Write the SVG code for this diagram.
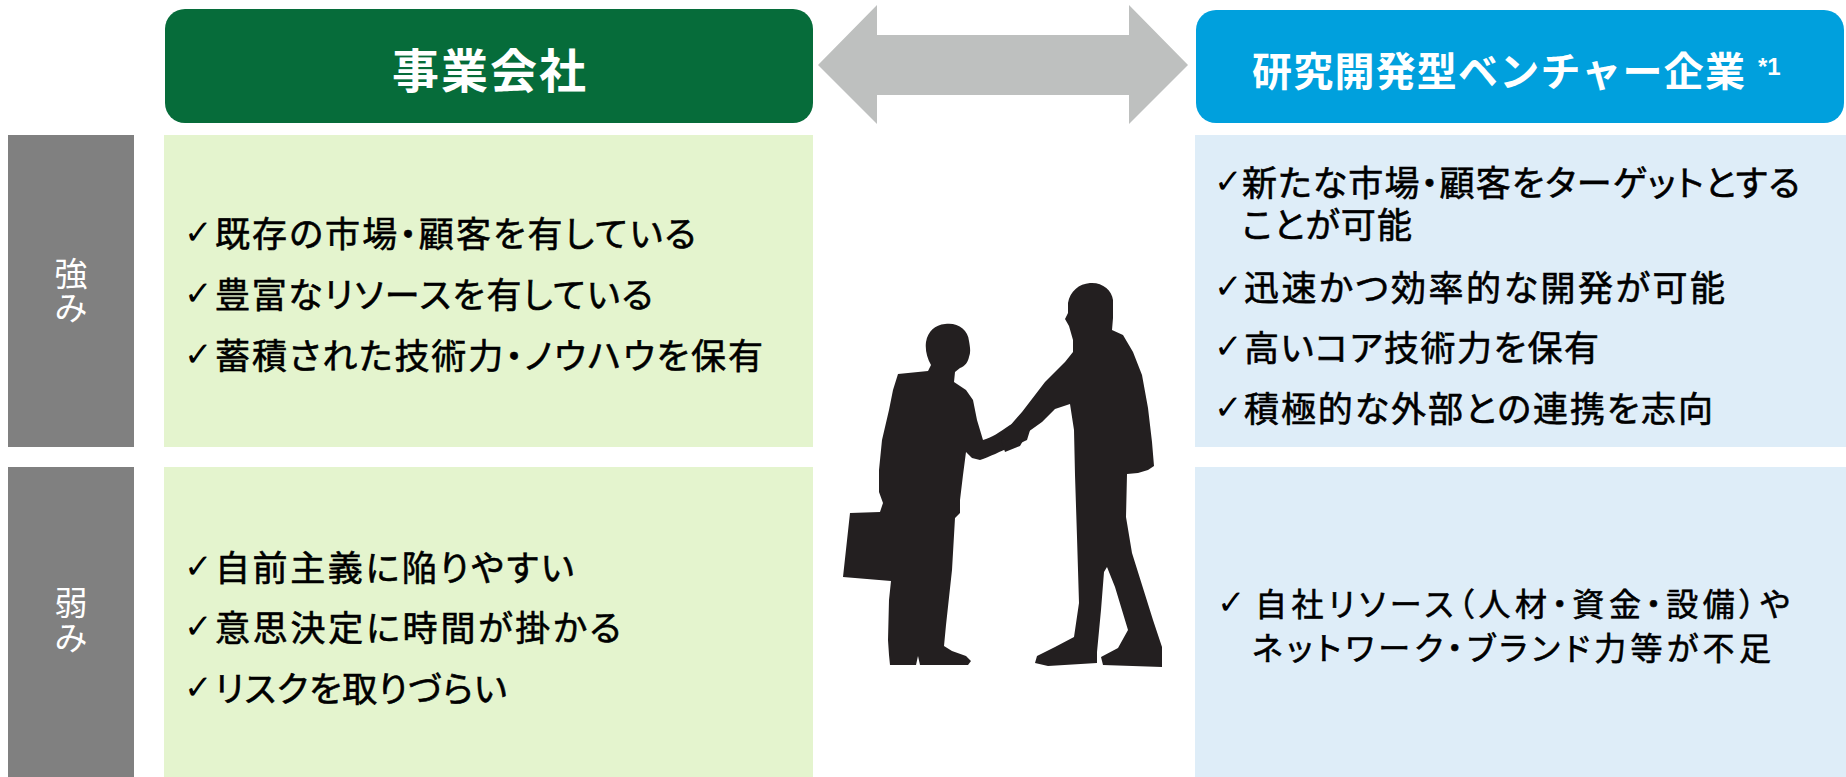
<svg xmlns="http://www.w3.org/2000/svg" width="1846" height="777" viewBox="0 0 1846 777">
  <style>
    .jp { font-family: "Noto Sans CJK JP", "Noto Sans", sans-serif; }
    .hdr { font-weight: 700; fill: #ffffff; }
    .body { font-size: 35px; fill: #000000; stroke: #000000; stroke-width: 0.6px; font-feature-settings: "palt"; }
    .small { font-size: 32px; }
    .lbl { font-size: 33px; fill: #ffffff; text-anchor: middle; }
    .chk { font-family: "DejaVu Sans", sans-serif; font-size: 34px; fill: #000000; }
    .side { fill: #808080; }
    .green { fill: #E4F4CE; }
    .blue { fill: #DEEDF8; }
    .figure { fill: #231F20; }
  </style>

  <rect width="1846" height="777" fill="#ffffff"/>

  <!-- column headers -->
  <g id="header-company">
    <rect x="165" y="9" width="648" height="114" rx="20" fill="#066C3A"/>
    <text class="jp hdr" x="392" y="88" font-size="47" textLength="194" lengthAdjust="spacing">事業会社</text>
  </g>
  <g id="header-venture">
    <rect x="1196" y="10" width="648" height="113" rx="20" fill="#00A0DD"/>
    <text class="jp hdr" x="1252" y="86" font-size="40" textLength="493" lengthAdjust="spacing">研究開発型ベンチャー企業</text>
    <text x="1758" y="75" font-family="Liberation Sans, Arial, sans-serif" font-weight="700" font-size="24" fill="#ffffff">*1</text>
  </g>

  <!-- row labels (stacked vertically) -->
  <g id="label-strength">
    <rect class="side" x="8" y="135" width="126" height="312"/>
    <text class="jp lbl"><tspan x="71" y="286">強</tspan><tspan x="71" y="320">み</tspan></text>
  </g>
  <g id="label-weakness">
    <rect class="side" x="8" y="467" width="126" height="310"/>
    <text class="jp lbl"><tspan x="71" y="615">弱</tspan><tspan x="71" y="650">み</tspan></text>
  </g>

  <!-- company: strengths -->
  <g id="company-strengths">
    <rect class="green" x="164" y="135" width="649" height="312"/>
    <text class="chk" x="184" y="244">✓</text>
    <text class="jp body" x="215" y="246.5" textLength="481" lengthAdjust="spacing">既存の市場・顧客を有している</text>
    <text class="chk" x="184" y="305">✓</text>
    <text class="jp body" x="215" y="307.5" textLength="438" lengthAdjust="spacing">豊富なリソースを有している</text>
    <text class="chk" x="184" y="366">✓</text>
    <text class="jp body" x="215" y="368.5" textLength="548" lengthAdjust="spacing">蓄積された技術力・ノウハウを保有</text>
  </g>

  <!-- company: weaknesses -->
  <g id="company-weaknesses">
    <rect class="green" x="164" y="467" width="649" height="310"/>
    <text class="chk" x="184" y="578">✓</text>
    <text class="jp body" x="215" y="580.5" textLength="359" lengthAdjust="spacing">自前主義に陥りやすい</text>
    <text class="chk" x="184" y="638">✓</text>
    <text class="jp body" x="215" y="640.5" textLength="406" lengthAdjust="spacing">意思決定に時間が掛かる</text>
    <text class="chk" x="184" y="699">✓</text>
    <text class="jp body" x="215" y="701.5" textLength="292" lengthAdjust="spacing">リスクを取りづらい</text>
  </g>

  <!-- venture: strengths -->
  <g id="venture-strengths">
    <rect class="blue" x="1195" y="135" width="651" height="312"/>
    <text class="chk" x="1214" y="193">✓</text>
    <text class="jp body"><tspan x="1242" y="195.5" textLength="558" lengthAdjust="spacing">新たな市場・顧客をターゲットとする</tspan><tspan x="1242" y="237.5" textLength="170" lengthAdjust="spacing">ことが可能</tspan></text>
    <text class="chk" x="1214" y="298">✓</text>
    <text class="jp body" x="1244" y="300.5" textLength="481" lengthAdjust="spacing">迅速かつ効率的な開発が可能</text>
    <text class="chk" x="1214" y="358">✓</text>
    <text class="jp body" x="1244" y="360.5" textLength="355" lengthAdjust="spacing">高いコア技術力を保有</text>
    <text class="chk" x="1214" y="419">✓</text>
    <text class="jp body" x="1244" y="421.5" textLength="469" lengthAdjust="spacing">積極的な外部との連携を志向</text>
  </g>

  <!-- venture: weaknesses -->
  <g id="venture-weaknesses">
    <rect class="blue" x="1195" y="467" width="651" height="310"/>
    <text class="chk" x="1217" y="614" font-size="28">✓</text>
    <text class="jp body small"><tspan x="1255" y="616" textLength="535" lengthAdjust="spacing">自社リソース（人材・資金・設備）や</tspan><tspan x="1252" y="660" textLength="519" lengthAdjust="spacing">ネットワーク・ブランド力等が不足</tspan></text>
  </g>

  <!-- two-way arrow between the two parties -->
  <g id="connectors">
    <polygon fill="#BEC0BF" points="818,65 877,5 877,35 1129,35 1129,5 1188,65 1129,124 1129,95 877,95 877,124"/>
  </g>

  <!-- handshake silhouette -->
  <g id="handshake">
    <!-- man with briefcase -->
    <path class="figure" d="M945,324 C957,322 968,329 969,341 C970,347 971,352 969,357 C968,362 965,366 960,368 L955,372 L954,382 L966,390 L973,400 L977,420 L983,440 C991,438 1000,432 1010,425 L1022,420 L1031,427 L1027,440 L1012,447 C1000,451 990,457 980,460 L972,458 L966,452 L963,475 L960,500 L960,513 L955,518 L952,570 L946,625 L944,646 L952,651 L966,656 L971,661 L968,665 L920,665 L918,656 L916,665 L890,665 L889,655 L888,640 L889,600 L891,581 L843,577 L850,513 L880,512 L883,503 L879,492 L879,470 L882,440 L889,410 L893,390 L898,374 L928,371 L931,365 C927,358 925,350 926,342 C928,331 935,325 945,324 Z"/>
    <!-- man reaching forward -->
    <path class="figure" d="M1090,283 C1102,282 1112,290 1113,300 L1113,318 L1112,330 L1123,335 L1133,352 L1142,375 L1148,408 L1152,442 L1154,466 L1148,470 L1138,473 L1127,474 L1126,517 L1132,553 L1153,620 L1162,647 L1162,667 L1103,665 L1101,657 L1118,648 L1128,630 L1115,587 L1107,567 L1104,572 L1101,610 L1097,652 L1097,663 L1048,666 L1035,663 L1037,656 L1055,647 L1074,637 L1079,603 L1077,537 L1075,475 L1074,430 L1070,404 L1055,409 L1042,422 L1028,432 L1020,446 L1005,452 L1001,440 L1008,428 L1022,412 L1045,382 L1065,362 L1073,352 L1073,340 L1071,333 L1069,326 L1065,319 L1068,313 L1068,303 C1070,291 1079,284 1090,283 Z"/>
  </g>
</svg>
